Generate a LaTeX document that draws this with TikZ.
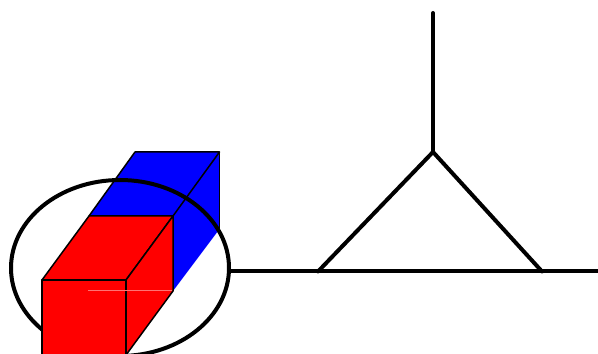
\documentclass[tikz,border=0pt]{standalone}
\usepackage{tikz}

\tikzset{
    thickline/.style={line width=0.08cm, line cap=round, line join=round},
    boxedge/.style={draw=black, line width=0.03cm, line join=round}
}

\begin{document}
\begin{tikzpicture}
    \useasboundingbox (0,0) rectangle (11.96,7.08);
    % Blue box
    \fill[blue] (1.78,2.76) -- (2.70,4.04) -- (4.39,4.04) -- (4.39,2.50) -- (3.46,1.26) -- (3.46,2.76) -- cycle;
    \draw[boxedge] (1.78,2.76) -- (2.70,4.04) -- (4.39,4.04) -- (3.46,2.76);
    \draw[boxedge] (4.39,4.04) -- (4.39,2.50);
    % Ellipse
    \draw[thickline] (2.40,1.72) ellipse (2.18 and 1.76);
    % Red box
    \draw[boxedge, fill=red] (0.84,-0.10) rectangle (2.52,1.48);
    \draw[boxedge, fill=red] (0.84,1.48) -- (1.78,2.76) -- (3.46,2.76) -- (2.52,1.48) -- cycle;
    \draw[boxedge, fill=red] (2.52,1.48) -- (3.46,2.76) -- (3.46,1.26) -- (2.52,-0.02) -- cycle;
    % Faint hidden edge
    \draw[red!55!white, line width=0.02cm] (1.76,1.26) -- (3.44,1.26);
    % Lines on the right
    \coordinate (base) at (4.58,1.65);
    \coordinate (baseend) at (11.96,1.65);
    \coordinate (left) at (6.36,1.65);
    \coordinate (right) at (10.84,1.65);
    \coordinate (apex) at (8.66,4.04);
    \coordinate (top) at (8.66,6.82);
    \draw[thickline] (base) -- (baseend);
    \draw[thickline] (left) -- (apex) -- (right);
    \draw[thickline] (apex) -- (top);
\end{tikzpicture}
\end{document}
